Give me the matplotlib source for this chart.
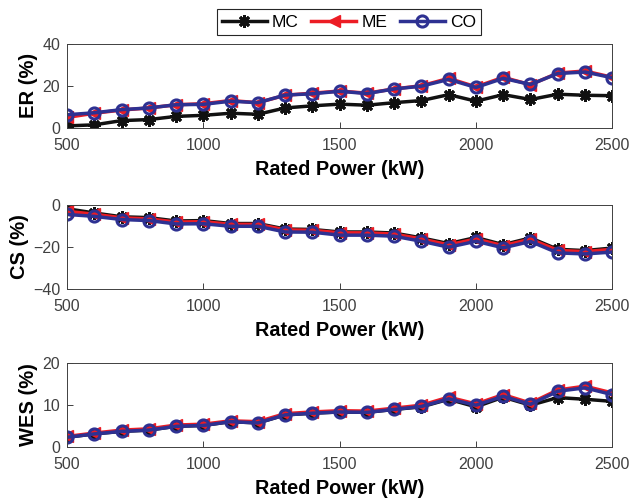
import numpy as np
import matplotlib.pyplot as plt

plt.rcParams['font.family'] = ['Liberation Sans', 'DejaVu Sans']

power = list(range(500, 2600, 100))

er_mc = [1, 1.5, 3.5, 4, 5.5, 6, 7, 6.5, 9.5, 10.5, 11.3, 10.8, 12, 13, 15.8, 12.7, 15.8, 13.5, 16, 15.5, 15.3]
er_me = [5, 7, 8.5, 9.5, 11, 11.5, 13, 12, 15.5, 16.5, 17.5, 16.5, 18.5, 20, 23.5, 19.5, 24, 20.5, 26, 27, 24]
er_co = [6.3, 7.2, 8.7, 9.5, 11, 11.2, 12.7, 12, 15.6, 16.2, 17.4, 16.3, 18.5, 19.8, 23, 19.2, 23.5, 20.6, 25.8, 26.5, 23.8]

cs_mc = [-2, -4, -5.8, -6.2, -7.8, -7.6, -9, -9, -11.6, -11.8, -13, -13, -13.5, -15.8, -18.5, -15.6, -19, -15.8, -21.2, -21.8, -20.6]
cs_me = [-3.2, -4.6, -6.3, -6.8, -8.3, -8.1, -9.4, -9.4, -12, -12.2, -13.4, -13.4, -14, -16.3, -19.1, -16.3, -19.5, -16.4, -21.7, -22.3, -21.2]
cs_co = [-4.7, -5.6, -7.1, -7.6, -9.2, -9.1, -10.3, -10.3, -13, -13.1, -14.5, -14.5, -15, -17.4, -20.2, -17.4, -20.5, -17.5, -22.9, -23.4, -22.5]

wes_mc = [2.3, 3.1, 3.7, 4, 4.9, 5.1, 6, 5.7, 7.6, 8, 8.3, 8.2, 8.9, 9.5, 11.3, 9.5, 11.8, 9.9, 11.7, 11.3, 10.8]
wes_me = [2.5, 3.3, 4, 4.3, 5.2, 5.4, 6.2, 6, 7.9, 8.3, 8.6, 8.5, 9.2, 9.9, 11.8, 10.2, 12.4, 10.4, 13.5, 14.4, 12.8]
wes_co = [2.3, 3.1, 3.7, 4, 4.9, 5.1, 6, 5.7, 7.6, 8, 8.3, 8.2, 8.9, 9.6, 11.4, 9.9, 12, 10.1, 13.2, 14, 12.4]

panels = [
    ('ER (%)', er_mc, er_me, er_co, (0, 40), [0, 20, 40], 0.7455),
    ('CS (%)', cs_mc, cs_me, cs_co, (-40, 0), [-40, -20, 0], 0.4254),
    ('WES (%)', wes_mc, wes_me, wes_co, (0, 20), [0, 10, 20], 0.1113),
]

fig = plt.figure(figsize=(6.4, 5.03), dpi=100)

for label, mc, me, co, ylim, yt, bottom in panels:
    ax = fig.add_axes([0.1047, bottom, 0.852, 0.168])
    ax.plot(power, mc, color='#111111', lw=2.5, marker=(8, 2, 0), ms=9, mew=2, label='MC')
    ax.plot(power, me, color='#ec1c24', lw=2.5, marker='<', ms=9, label='ME')
    ax.plot(power, co, color='#2e3192', lw=2.5, marker='o', ms=8, mew=2.2,
            mfc='none', label='CO')
    ax.set_xlim(500, 2500)
    ax.set_ylim(*ylim)
    ax.set_xticks([500, 1000, 1500, 2000, 2500])
    ax.set_yticks(yt)
    ax.tick_params(direction='in', labelsize=11.5, colors='#404040', length=4, width=0.7)
    ax.tick_params(axis='x', pad=7)
    ax.tick_params(axis='y', pad=5)
    for s in ax.spines.values():
        s.set_color('#404040')
        s.set_linewidth(0.7)
    ax.set_xlabel('Rated Power (kW)', fontsize=14.3, fontweight='bold', labelpad=5)
    ax.set_ylabel(label, fontsize=14.5, fontweight='bold', labelpad=3)
    if label == 'ER (%)':
        handles, labels = ax.get_legend_handles_labels()

fig.legend(handles, labels, loc='center', bbox_to_anchor=(0.545, 0.956), ncol=3,
           fontsize=12.5, frameon=True, fancybox=False, edgecolor='#262626',
           handlelength=2.6, handletextpad=0.3, columnspacing=0.7, borderpad=0.3,
           framealpha=1).get_frame().set_linewidth(0.8)

fig.savefig('out.png', dpi=100)
